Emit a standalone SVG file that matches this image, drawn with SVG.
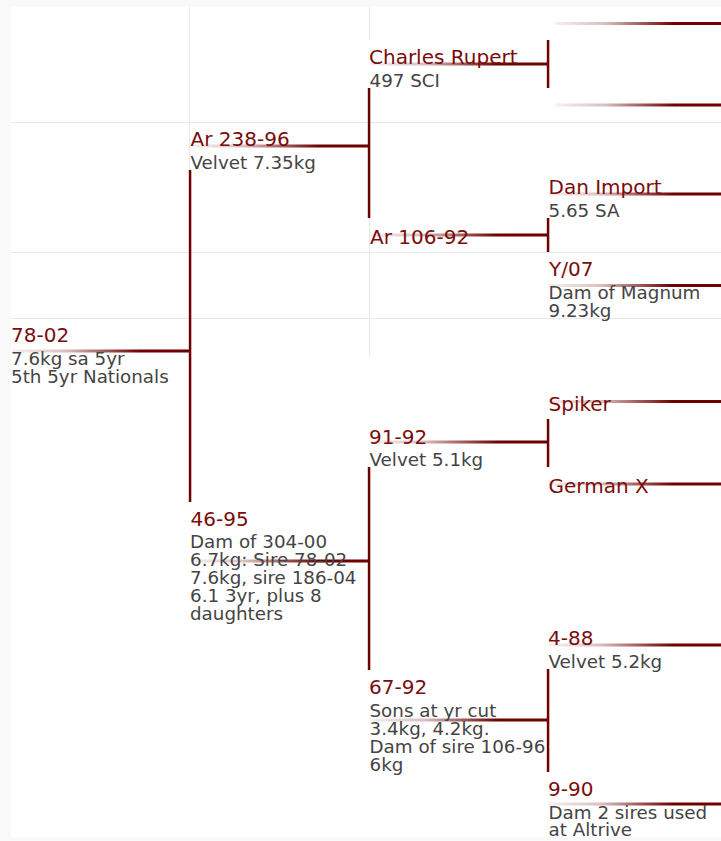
<svg xmlns="http://www.w3.org/2000/svg" width="721" height="841" viewBox="0 0 721 841">
<style>
  .n { font-family: "DejaVu Sans", Verdana, sans-serif; font-size: 20px; fill: #7a0c0c; }
  .d { font-family: "DejaVu Sans", Verdana, sans-serif; font-size: 18.3px; fill: #444444; }
  .grid { stroke: #e9e9e9; stroke-width: 1; fill: none; }
  .v { fill: #6e0000; }
  .h { fill: url(#fade); }
</style>
<defs>
  <linearGradient id="fade" x1="0" y1="0" x2="1" y2="0">
    <stop offset="0" stop-color="#6e0000" stop-opacity="0.06"/>
    <stop offset="0.3" stop-color="#6e0000" stop-opacity="0.25"/>
    <stop offset="0.72" stop-color="#6e0000" stop-opacity="1"/>
    <stop offset="1" stop-color="#6e0000" stop-opacity="1"/>
  </linearGradient>
</defs>
<rect x="0" y="0" width="721" height="841" fill="#f9f9f9"/>
<rect x="11" y="7" width="710" height="830" fill="#ffffff"/>
<g id="grid">
  <line class="grid" x1="11" y1="122.5" x2="721" y2="122.5"/>
  <line class="grid" x1="11" y1="252.5" x2="721" y2="252.5"/>
  <line class="grid" x1="11" y1="318.5" x2="721" y2="318.5"/>
  <line class="grid" x1="189.5" y1="7" x2="189.5" y2="357"/>
  <line class="grid" x1="369.5" y1="7" x2="369.5" y2="40"/>
  <line class="grid" x1="369.5" y1="218" x2="369.5" y2="357"/>
</g>
<g id="connectors">
  <rect class="h" x="12" y="349.5" width="178" height="3"/>
  <rect class="h" x="191" y="144.5" width="178" height="3"/>
  <rect class="h" x="191" y="559.5" width="178" height="3"/>
  <rect class="h" x="370" y="62.5" width="178" height="3"/>
  <rect class="h" x="370" y="233.5" width="178" height="3"/>
  <rect class="h" x="370" y="440.5" width="178" height="3"/>
  <rect class="h" x="370" y="718.5" width="178" height="3"/>
  <rect class="h" x="555" y="22" width="166" height="3"/>
  <rect class="h" x="555" y="103.5" width="166" height="3"/>
  <rect class="h" x="549" y="192.5" width="172" height="3"/>
  <rect class="h" x="549" y="284" width="172" height="3"/>
  <rect class="h" x="549" y="400" width="172" height="3"/>
  <rect class="h" x="549" y="482.5" width="172" height="3"/>
  <rect class="h" x="549" y="643.5" width="172" height="3"/>
  <rect class="h" x="549" y="802.5" width="172" height="3"/>
  <rect class="v" x="188.8" y="170" width="2.5" height="332"/>
  <rect class="v" x="367.8" y="88" width="2.5" height="130"/>
  <rect class="v" x="367.8" y="467" width="2.5" height="203"/>
  <rect class="v" x="546.8" y="40" width="2.5" height="48"/>
  <rect class="v" x="546.8" y="218" width="2.5" height="34"/>
  <rect class="v" x="546.8" y="419" width="2.5" height="48"/>
  <rect class="v" x="546.8" y="669" width="2.5" height="103"/>
</g>
<g id="node-78-02">
  <text class="n" x="11" y="342">78-02</text>
  <text class="d" x="11" y="365">7.6kg sa 5yr</text>
  <text class="d" x="11" y="383">5th 5yr Nationals</text>
</g>
<g id="node-ar-238-96">
  <text class="n" x="190.5" y="146">Ar 238-96</text>
  <text class="d" x="190.5" y="169">Velvet 7.35kg</text>
</g>
<g id="node-46-95">
  <text class="n" x="190.5" y="525.5">46-95</text>
  <text class="d" x="190" y="548">Dam of 304-00</text>
  <text class="d" x="190" y="566">6.7kg: Sire 78-02</text>
  <text class="d" x="190" y="584">7.6kg, sire 186-04</text>
  <text class="d" x="190" y="602">6.1 3yr, plus 8</text>
  <text class="d" x="190" y="620">daughters</text>
</g>
<g id="node-charles-rupert">
  <text class="n" x="369" y="63.5">Charles Rupert</text>
  <text class="d" x="369.5" y="87">497 SCI</text>
</g>
<g id="node-ar-106-92">
  <text class="n" x="370" y="244">Ar 106-92</text>
</g>
<g id="node-91-92">
  <text class="n" x="369" y="443.5">91-92</text>
  <text class="d" x="369.5" y="466">Velvet 5.1kg</text>
</g>
<g id="node-67-92">
  <text class="n" x="369" y="694">67-92</text>
  <text class="d" x="369.5" y="716.5">Sons at yr cut</text>
  <text class="d" x="369.5" y="734.5">3.4kg, 4.2kg.</text>
  <text class="d" x="369.5" y="752.5">Dam of sire 106-96</text>
  <text class="d" x="369.5" y="770.5">6kg</text>
</g>
<g id="node-dan-import">
  <text class="n" x="548.5" y="194">Dan Import</text>
  <text class="d" x="548.5" y="217">5.65 SA</text>
</g>
<g id="node-y-07">
  <text class="n" x="549" y="276">Y/07</text>
  <text class="d" x="548.5" y="299">Dam of Magnum</text>
  <text class="d" x="548.5" y="317">9.23kg</text>
</g>
<g id="node-spiker">
  <text class="n" x="548.5" y="411">Spiker</text>
</g>
<g id="node-german-x">
  <text class="n" x="548.5" y="493">German X</text>
</g>
<g id="node-4-88">
  <text class="n" x="548" y="645">4-88</text>
  <text class="d" x="548.5" y="668">Velvet 5.2kg</text>
</g>
<g id="node-9-90">
  <text class="n" x="548" y="795.5">9-90</text>
  <text class="d" x="548.5" y="818.5">Dam 2 sires used</text>
  <text class="d" x="548.5" y="836">at Altrive</text>
</g>
</svg>
